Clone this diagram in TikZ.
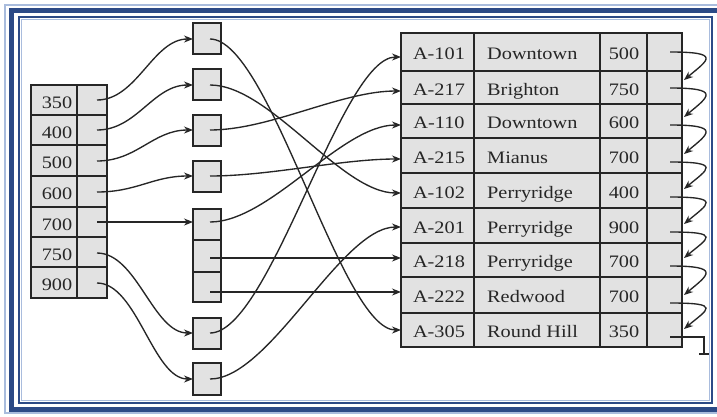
\documentclass[tikz,border=0pt]{standalone}
\usepackage{fontspec}
\setmainfont[FakeStretch=1.16]{Liberation Serif}
\usetikzlibrary{arrows.meta}
\definecolor{frameblue}{HTML}{2C4A86}
\definecolor{framelight}{HTML}{A9BCDD}
\definecolor{cellgray}{HTML}{E2E2E2}
\definecolor{ink}{HTML}{262626}
\tikzset{
  tbl/.style={draw=ink, line width=1.2pt, fill=cellgray},
  rule/.style={draw=ink, line width=1.2pt},
  bucket/.style={draw=ink, line width=1.2pt, fill=cellgray, minimum width=28pt, inner sep=0pt},
  ptr/.style={draw=ink, line width=1.35pt, -{Stealth[length=9pt,width=7pt]}},
  lbl/.style={font=\fontsize{17.5}{20}\selectfont, inner sep=0pt, text=ink},
}
\begin{document}
\begin{tikzpicture}[x=1pt,y=-1pt]
\useasboundingbox (0,0) rectangle (717,416);
\clip (0,0) rectangle (717,416);
\fill[white] (0,0) rectangle (717,416);
% frame
\draw[framelight, line width=1.5pt] (5,5) rectangle (740,413);
\draw[frameblue, line width=5pt] (11,10) rectangle (740,409);
\draw[frameblue, line width=1.5pt] (19,17) rectangle (712,403);
\draw[framelight, line width=1pt] (21.5,19.5) rectangle (709.5,400.5);

% left index table
\draw[tbl] (31,85) rectangle (107,298);
\foreach \y in {115,145,176,207,237,267} \draw[rule] (31,\y) -- (107,\y);
\draw[rule] (77,85) -- (77,298);
\foreach \n/\yc in {1/100,2/130,3/161,4/192,5/222,6/253,7/283}{
  \coordinate (l\n) at (97,\yc);
}
\node[lbl, anchor=base] (v350) at (57,108) {350};
\node[lbl, anchor=base] (v400) at (57,138) {400};
\node[lbl, anchor=base] (v500) at (57,168) {500};
\node[lbl, anchor=base] (v600) at (57,199) {600};
\node[lbl, anchor=base] (v700) at (57,230) {700};
\node[lbl, anchor=base] (v750) at (57,260) {750};
\node[lbl, anchor=base] (v900) at (57,290) {900};

% buckets
\node[bucket, minimum height=31pt] (b1) at (207,38.5) {};
\node[bucket, minimum height=31pt] (b2) at (207,84.5) {};
\node[bucket, minimum height=31pt] (b3) at (207,130.5) {};
\node[bucket, minimum height=31pt] (b4) at (207,176.5) {};
\node[bucket, minimum height=31pt] (b5a) at (207,224.5) {};
\node[bucket, minimum height=32pt] (b5b) at (207,256) {};
\node[bucket, minimum height=30pt] (b5c) at (207,287) {};
\node[bucket, minimum height=31pt] (b6) at (207,333.5) {};
\node[bucket, minimum height=32pt] (b7) at (207,379) {};
\coordinate (i1) at (193,39);
\coordinate (i2) at (193,85);
\coordinate (i3) at (193,130);
\coordinate (i4) at (193,176);
\coordinate (i5) at (193,222);
\coordinate (i6) at (193,333);
\coordinate (i7) at (193,379);
\coordinate (p1) at (210,39);
\coordinate (p2) at (210,85);
\coordinate (p3) at (210,130);
\coordinate (p4) at (210,176);
\coordinate (p5a) at (210,222);
\coordinate (p5b) at (210,258);
\coordinate (p5c) at (210,292);
\coordinate (p6) at (210,333);
\coordinate (p7) at (210,379);

% left -> buckets
\draw[ptr] (l1) .. controls +(40,0) and +(-40,0) .. (i1);
\draw[ptr] (l2) .. controls +(40,0) and +(-40,0) .. (i2);
\draw[ptr] (l3) .. controls +(40,0) and +(-40,0) .. (i3);
\draw[ptr] (l4) .. controls +(40,0) and +(-40,0) .. (i4);
\draw[ptr] (l5) -- (i5);
\draw[ptr] (l6) .. controls +(40,0) and +(-40,0) .. (i6);
\draw[ptr] (l7) .. controls +(40,0) and +(-40,0) .. (i7);

% right table
\draw[tbl] (401,33) rectangle (682,347);
\foreach \y in {71,104,138,173,208,243,277,313} \draw[rule] (401,\y) -- (682,\y);
\foreach \x in {474,600,647} \draw[rule] (\x,33) -- (\x,347);
\foreach \n/\yb/\a/\b/\c in {1/59.5/A-101/Downtown/500, 2/95/A-217/Brighton/750,
  3/128.5/A-110/Downtown/600, 4/163/A-215/Mianus/700, 5/198/A-102/Perryridge/400,
  6/233/A-201/Perryridge/900, 7/267.5/A-218/Perryridge/700, 8/302.5/A-222/Redwood/700,
  9/337.5/A-305/Round Hill/350}{
  \node[lbl, anchor=base] (ra\n) at (439,\yb) {\a};
  \node[lbl, anchor=base west] (rb\n) at (487,\yb) {\b};
  \node[lbl, anchor=base] (rc\n) at (624,\yb) {\c};
}
\foreach \n/\y in {1/57,2/91,3/125,4/159,5/193,6/227,7/258,8/292,9/330}
  \coordinate (r\n) at (401,\y);

% buckets -> records
\draw[ptr] (p1) .. controls +(60,0) and +(-60,0) .. (r9);
\draw[ptr] (p2) .. controls +(60,0) and +(-60,0) .. (r5);
\draw[ptr] (p3) .. controls +(60,0) and +(-60,0) .. (r2);
\draw[ptr] (p4) .. controls +(60,0) and +(-60,0) .. (r4);
\draw[ptr] (p5a) .. controls +(60,0) and +(-60,0) .. (r3);
\draw[ptr] (p5b) -- (r7);
\draw[ptr] (p5c) -- (r8);
\draw[ptr] (p6) .. controls +(60,0) and +(-60,0) .. (r1);
\draw[ptr] (p7) .. controls +(60,0) and +(-60,0) .. (r6);

% record chain
\foreach \n/\y in {1/52,2/88,3/125,4/162,5/197,6/232,7/266,8/303,9/337}
  \coordinate (s\n) at (670,\y);
\foreach \n/\y in {2/80,3/117,4/154,5/189,6/224,7/258,8/295,9/329}
  \coordinate (t\n) at (684,\y);
\foreach \a/\b in {1/2,2/3,3/4,4/5,5/6,6/7,7/8,8/9}
  \draw[ptr] (s\a) .. controls +(52,0) and +(24,-20) .. (t\b);
\coordinate (g1) at (704,337);
\coordinate (g2) at (704,354);
\draw[rule] (s9) -- (g1) -- (g2);
\draw[rule] ([xshift=-5pt]g2) -- ([xshift=5pt]g2);
\end{tikzpicture}
\end{document}
